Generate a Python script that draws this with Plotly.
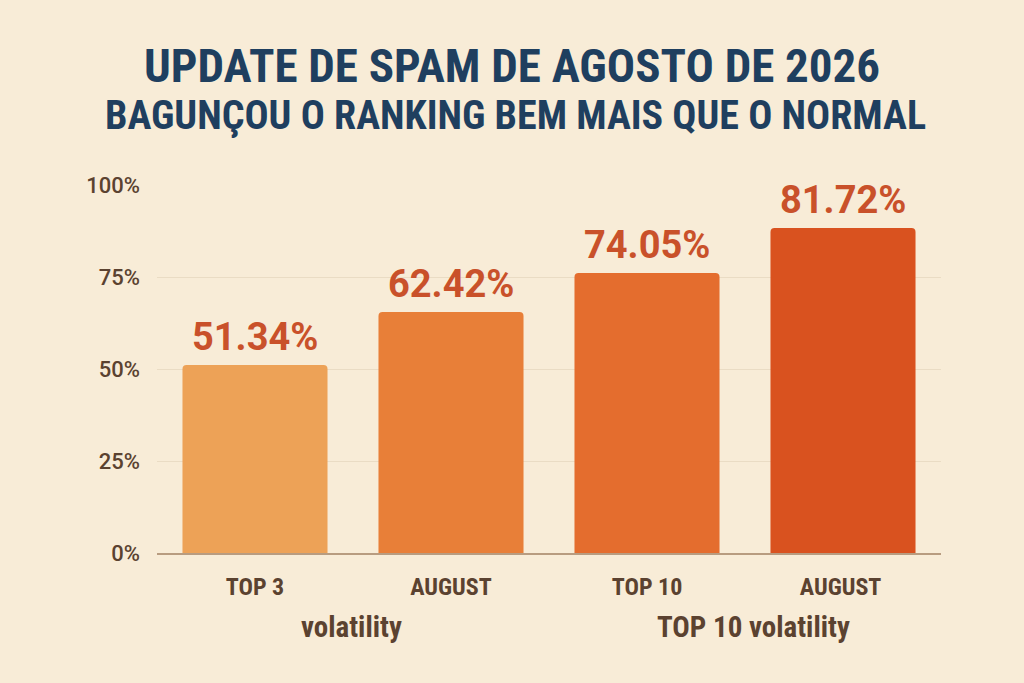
import plotly.graph_objects as go

# bar heights as drawn in the picture, and the printed labels
categories = ["TOP 3", "AUGUST", "TOP 10", "AUGUST "]
bar_heights = [51.1, 65.5, 76.1, 88.3]
value_labels = ["51.34%", "62.42%", "74.05%", "81.72%"]
bar_colors = ["#eda257", "#e87f38", "#e46d2e", "#d9521f"]
tick_vals = [0, 25, 50, 75, 100]
tick_text = ["0%", "25%", "50%", "75%", "100%"]
group_labels = ["volatility", "TOP 10 volatility"]
title_lines = ["UPDATE DE SPAM DE AGOSTO DE 2026",
               "BAGUNÇOU O RANKING BEM MAIS QUE O NORMAL"]

bg = "#f8ecd7"
brown = "#5b4230"
cond = "Roboto Condensed, DejaVu Sans Condensed, Roboto"

fig = go.Figure()

fig.add_trace(
    go.Bar(
        x=categories,
        y=bar_heights,
        marker=dict(color=bar_colors, cornerradius=4, line=dict(width=0)),
        width=0.74,
        hoverinfo="skip",
    )
)

# value labels above each bar
for cat, h, lab in zip(categories, bar_heights, value_labels):
    fig.add_annotation(
        x=cat, y=h, text=lab, showarrow=False,
        yanchor="bottom", yshift=4,
        font=dict(family="Roboto", size=38, color="#c9512a", weight="bold"),
    )

# two title lines, centred on the whole page
fig.add_annotation(
    x=0.453, y=1.325, xref="paper", yref="paper", text=title_lines[0],
    showarrow=False, yanchor="middle",
    font=dict(family=cond, size=47, color="#1f3f5f", weight="bold"),
)
fig.add_annotation(
    x=0.457, y=1.19, xref="paper", yref="paper", text=title_lines[1],
    showarrow=False, yanchor="middle",
    font=dict(family=cond, size=40, color="#1f3f5f", weight="bold"),
)

# second row of the category labels
fig.add_annotation(
    x=0.5, y=-0.201, xref="x", yref="paper", text=group_labels[0],
    showarrow=False, yanchor="middle", xshift=-2,
    font=dict(family=cond, size=29, color=brown, weight="bold"),
)
fig.add_annotation(
    x=2.5, y=-0.201, xref="x", yref="paper", text=group_labels[1],
    showarrow=False, yanchor="middle", xshift=8,
    font=dict(family=cond, size=29, color=brown, weight="bold"),
)

fig.update_layout(
    width=1024,
    height=683,
    paper_bgcolor=bg,
    plot_bgcolor=bg,
    showlegend=False,
    margin=dict(l=157, r=83, t=185, b=130),
    xaxis=dict(
        tickfont=dict(family=cond, size=24, color=brown, weight="bold"),
        showline=True, linecolor="#b89c80", linewidth=2,
        ticks="", ticklabelstandoff=11,
    ),
    yaxis=dict(
        range=[0, 100],
        tickvals=tick_vals, ticktext=tick_text,
        tickfont=dict(family="Roboto", size=22, color=brown, weight=500),
        gridcolor="#eadcc4", gridwidth=1,
        zeroline=False, ticks="", ticklabelstandoff=16,
    ),
)

fig.write_html("out.html", config={"displayModeBar": False},
               post_script="document.body.style.margin='0';")
